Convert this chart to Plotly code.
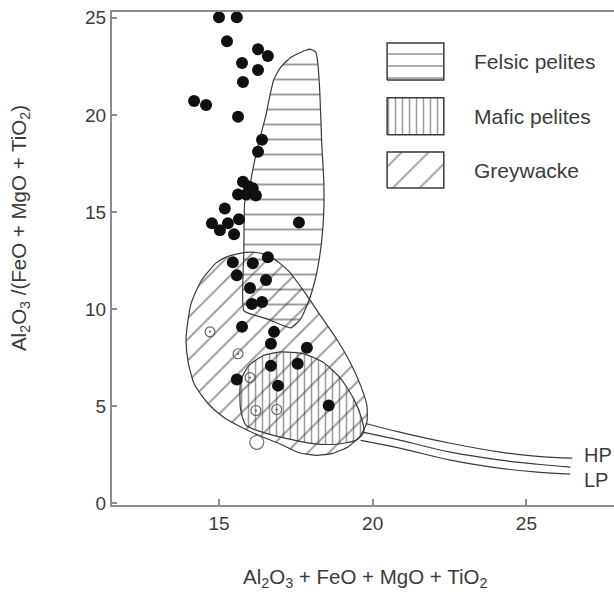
import plotly.graph_objects as go

# ---- sample data -------------------------------------------------------
# Filled circles
solid_x = [15.00, 15.58, 15.26, 16.27, 16.59, 15.75, 16.27, 15.78, 14.19, 14.58,
           15.62, 16.40, 16.27, 15.78, 15.97, 15.62, 15.88, 16.20, 16.10, 15.19,
           14.77, 15.03, 15.29, 15.65, 15.49, 17.60, 15.45, 16.10, 16.59, 15.58,
           16.53, 16.01, 16.07, 16.40, 15.75, 16.79, 16.69, 17.86, 16.69, 17.56,
           15.58, 16.92, 18.57]
solid_y = [25.03, 25.03, 23.79, 23.38, 23.03, 22.67, 22.31, 21.69, 20.72, 20.51,
           19.90, 18.72, 18.10, 16.56, 16.31, 15.90, 15.90, 15.85, 16.21, 15.18,
           14.41, 14.05, 14.41, 14.62, 13.85, 14.46, 12.41, 12.36, 12.67, 11.74,
           11.49, 11.08, 10.26, 10.36, 9.08, 8.82, 8.21, 8.00, 7.08, 7.18,
           6.36, 6.05, 5.03]

# Open circles with a centre dot
dotted_x = [14.71, 15.62, 16.01, 16.20, 16.88]
dotted_y = [8.82, 7.69, 6.46, 4.77, 4.82]

# Large open circle
open_x = [16.23]
open_y = [3.13]

# ---- compositional fields ----------------------------------------------
felsic_x = [17.99, 17.82, 17.34, 17.01, 16.79, 16.66, 16.53, 16.36, 16.20, 16.07,
            15.97, 15.84, 15.81, 15.81, 16.56, 17.34, 17.66, 17.92, 18.12, 18.25,
            18.34, 18.41, 18.41, 18.34, 18.28, 18.21, 18.15]
felsic_y = [23.38, 23.33, 22.97, 22.46, 21.85, 21.03, 20.00, 18.97, 17.95, 16.92,
            16.05, 15.54, 12.97, 9.90, 9.49, 9.03, 9.49, 10.41, 11.44, 12.46,
            13.49, 15.03, 16.56, 18.62, 21.18, 22.72, 23.23]

mafic_x = [15.71, 15.97, 16.43, 17.01, 17.76, 18.41, 18.96, 19.38, 19.64, 19.71,
           19.45, 18.80, 17.99, 17.18, 16.43, 15.88, 15.71, 15.68]
mafic_y = [6.31, 7.08, 7.59, 7.79, 7.69, 7.23, 6.41, 5.38, 4.36, 3.64,
           3.23, 3.03, 3.08, 3.33, 3.64, 4.00, 4.77, 5.54]

grey_x = [14.90, 15.32, 15.88, 16.36, 16.75, 17.27, 17.76, 18.31, 18.86, 19.29,
          19.61, 19.81, 19.81, 19.61, 19.22, 18.70, 18.15, 17.56, 17.01, 16.46,
          15.94, 15.16, 14.64, 14.19, 13.99, 13.93, 14.09, 14.42]
grey_y = [12.36, 12.72, 12.92, 12.87, 12.62, 11.95, 10.92, 9.64, 8.36, 7.18,
          6.05, 5.03, 4.15, 3.49, 2.92, 2.56, 2.46, 2.62, 3.03, 3.38,
          3.74, 4.41, 5.13, 6.15, 7.33, 8.51, 10.26, 11.44]

# ---- pressure trend lines ----------------------------------------------
hp_x = [19.77, 20.91, 22.53, 24.16, 25.36, 26.49]
hp_y = [4.10, 3.64, 3.08, 2.62, 2.41, 2.31]
mid_x = [19.71, 20.91, 22.53, 24.16, 25.36, 26.43]
mid_y = [3.64, 3.23, 2.62, 2.21, 2.00, 1.85]
lp_x = [19.61, 20.91, 22.53, 24.16, 25.36, 26.43]
lp_y = [3.23, 2.82, 2.21, 1.79, 1.59, 1.49]

x_ticks = [15, 20, 25]
y_ticks = [0, 5, 10, 15, 20, 25]

field_names = ["Felsic pelites", "Mafic pelites", "Greywacke"]

# ---- styling -----------------------------------------------------------
FONT = "Arial, Liberation Sans, sans-serif"
TXT = "#3c3c3c"
INK = "#3a3a3a"
HATCH = "#3a3a3a"
AXIS = "#8c8c8c"

patterns = {
    "Felsic pelites": dict(shape="-", size=15, solidity=0.13, smooth=0.4),
    "Mafic pelites": dict(shape="|", size=7, solidity=0.22, smooth=0.6),
    "Greywacke": dict(shape="/", size=15, solidity=0.13, smooth=0.6),
}
key_patterns = {
    "Felsic pelites": dict(shape="-", size=12, solidity=0.14),
    "Mafic pelites": dict(shape="|", size=7, solidity=0.22),
    "Greywacke": dict(shape="/", size=19, solidity=0.1),
}

fig = go.Figure()


def field(xs, ys, name):
    p = patterns[name]
    fig.add_trace(go.Scatter(
        x=xs + xs[:1], y=ys + ys[:1], mode="lines", fill="toself",
        fillcolor="rgba(0,0,0,0)",
        fillpattern=dict(shape=p["shape"], size=p["size"], solidity=p["solidity"],
                         fgcolor=HATCH, bgcolor="rgba(0,0,0,0)"),
        line=dict(color=INK, width=1.2, shape="spline", smoothing=p["smooth"]),
        hoverinfo="skip", showlegend=False, name=name))


field(grey_x, grey_y, "Greywacke")
field(mafic_x, mafic_y, "Mafic pelites")
field(felsic_x, felsic_y, "Felsic pelites")

for cx, cy in [(hp_x, hp_y), (mid_x, mid_y), (lp_x, lp_y)]:
    fig.add_trace(go.Scatter(x=cx, y=cy, mode="lines",
                             line=dict(color=INK, width=1.2, shape="spline"),
                             hoverinfo="skip", showlegend=False))

fig.add_trace(go.Scatter(x=solid_x, y=solid_y, mode="markers",
                         marker=dict(size=12, color="#101010"),
                         cliponaxis=False, showlegend=False))
fig.add_trace(go.Scatter(x=dotted_x, y=dotted_y, mode="markers",
                         marker=dict(size=10, symbol="circle-open-dot", color="#5a5a5a",
                                     line=dict(width=1.1)),
                         showlegend=False))
fig.add_trace(go.Scatter(x=open_x, y=open_y, mode="markers",
                         marker=dict(size=14, symbol="circle-open", color="#6a6a6a",
                                     line=dict(width=1.2)),
                         showlegend=False))

# ---- key boxes (drawn on a hidden 0..1 overlay) ------------------------
key_x = [0.548, 0.661]
key_y = [(0.862, 0.937), (0.751, 0.826), (0.643, 0.716)]
label_x = 0.717

for name, (y0, y1) in zip(field_names, key_y):
    p = key_patterns[name]
    fig.add_trace(go.Scatter(
        x=[key_x[0], key_x[1], key_x[1], key_x[0], key_x[0]],
        y=[y0, y0, y1, y1, y0], mode="lines", fill="toself",
        fillcolor="rgba(0,0,0,0)",
        fillpattern=dict(shape=p["shape"], size=p["size"], solidity=p["solidity"],
                         fgcolor=HATCH, bgcolor="rgba(0,0,0,0)"),
        line=dict(color=INK, width=1.5), xaxis="x2", yaxis="y2",
        hoverinfo="skip", showlegend=False))
    fig.add_annotation(x=label_x, y=(y0 + y1) / 2, xref="paper", yref="paper",
                       text=name, showarrow=False, xanchor="left", yanchor="middle",
                       font=dict(family=FONT, size=21, color=TXT))

# curve labels
fig.add_annotation(x=26.8, y=2.46, text="HP", showarrow=False, xanchor="left",
                   yanchor="middle", font=dict(family=FONT, size=20, color=TXT))
fig.add_annotation(x=26.8, y=1.18, text="LP", showarrow=False, xanchor="left",
                   yanchor="middle", font=dict(family=FONT, size=20, color=TXT))

# axis titles
fig.add_annotation(x=0.504, y=-0.148, xref="paper", yref="paper",
                   text="Al<sub>2</sub>O<sub>3</sub> + FeO + MgO + TiO<sub>2</sub>",
                   showarrow=False, xanchor="center", yanchor="middle",
                   font=dict(family=FONT, size=20.5, color=TXT))
fig.add_annotation(x=-0.183, y=0.562, xref="paper", yref="paper",
                   text="Al<sub>2</sub>O<sub>3</sub> /(FeO + MgO + TiO<sub>2</sub>)",
                   textangle=-90, showarrow=False, xanchor="center", yanchor="middle",
                   font=dict(family=FONT, size=20.5, color=TXT))

fig.update_layout(
    width=614, height=594,
    margin=dict(l=112, r=0, t=12, b=89),
    paper_bgcolor="white", plot_bgcolor="white",
    font=dict(family=FONT, color=TXT),
    xaxis=dict(range=[11.52, 27.85], tickvals=x_ticks, ticks="inside", ticklen=6,
               tickcolor=AXIS, tickwidth=1.5, showline=True, linecolor=AXIS,
               linewidth=2, mirror=True, showgrid=False, zeroline=False,
               tickfont=dict(size=19, color=TXT)),
    yaxis=dict(range=[-0.1, 25.3], tickvals=y_ticks, ticks="inside", ticklen=5,
               tickcolor=AXIS, tickwidth=1.5, showline=True, linecolor=AXIS,
               linewidth=2, showgrid=False, zeroline=False,
               tickfont=dict(size=19, color=TXT)),
    xaxis2=dict(overlaying="x", range=[0, 1], visible=False, anchor="y2"),
    yaxis2=dict(overlaying="y", range=[0, 1], visible=False, anchor="x2"),
)

fig.write_html("out.html")
